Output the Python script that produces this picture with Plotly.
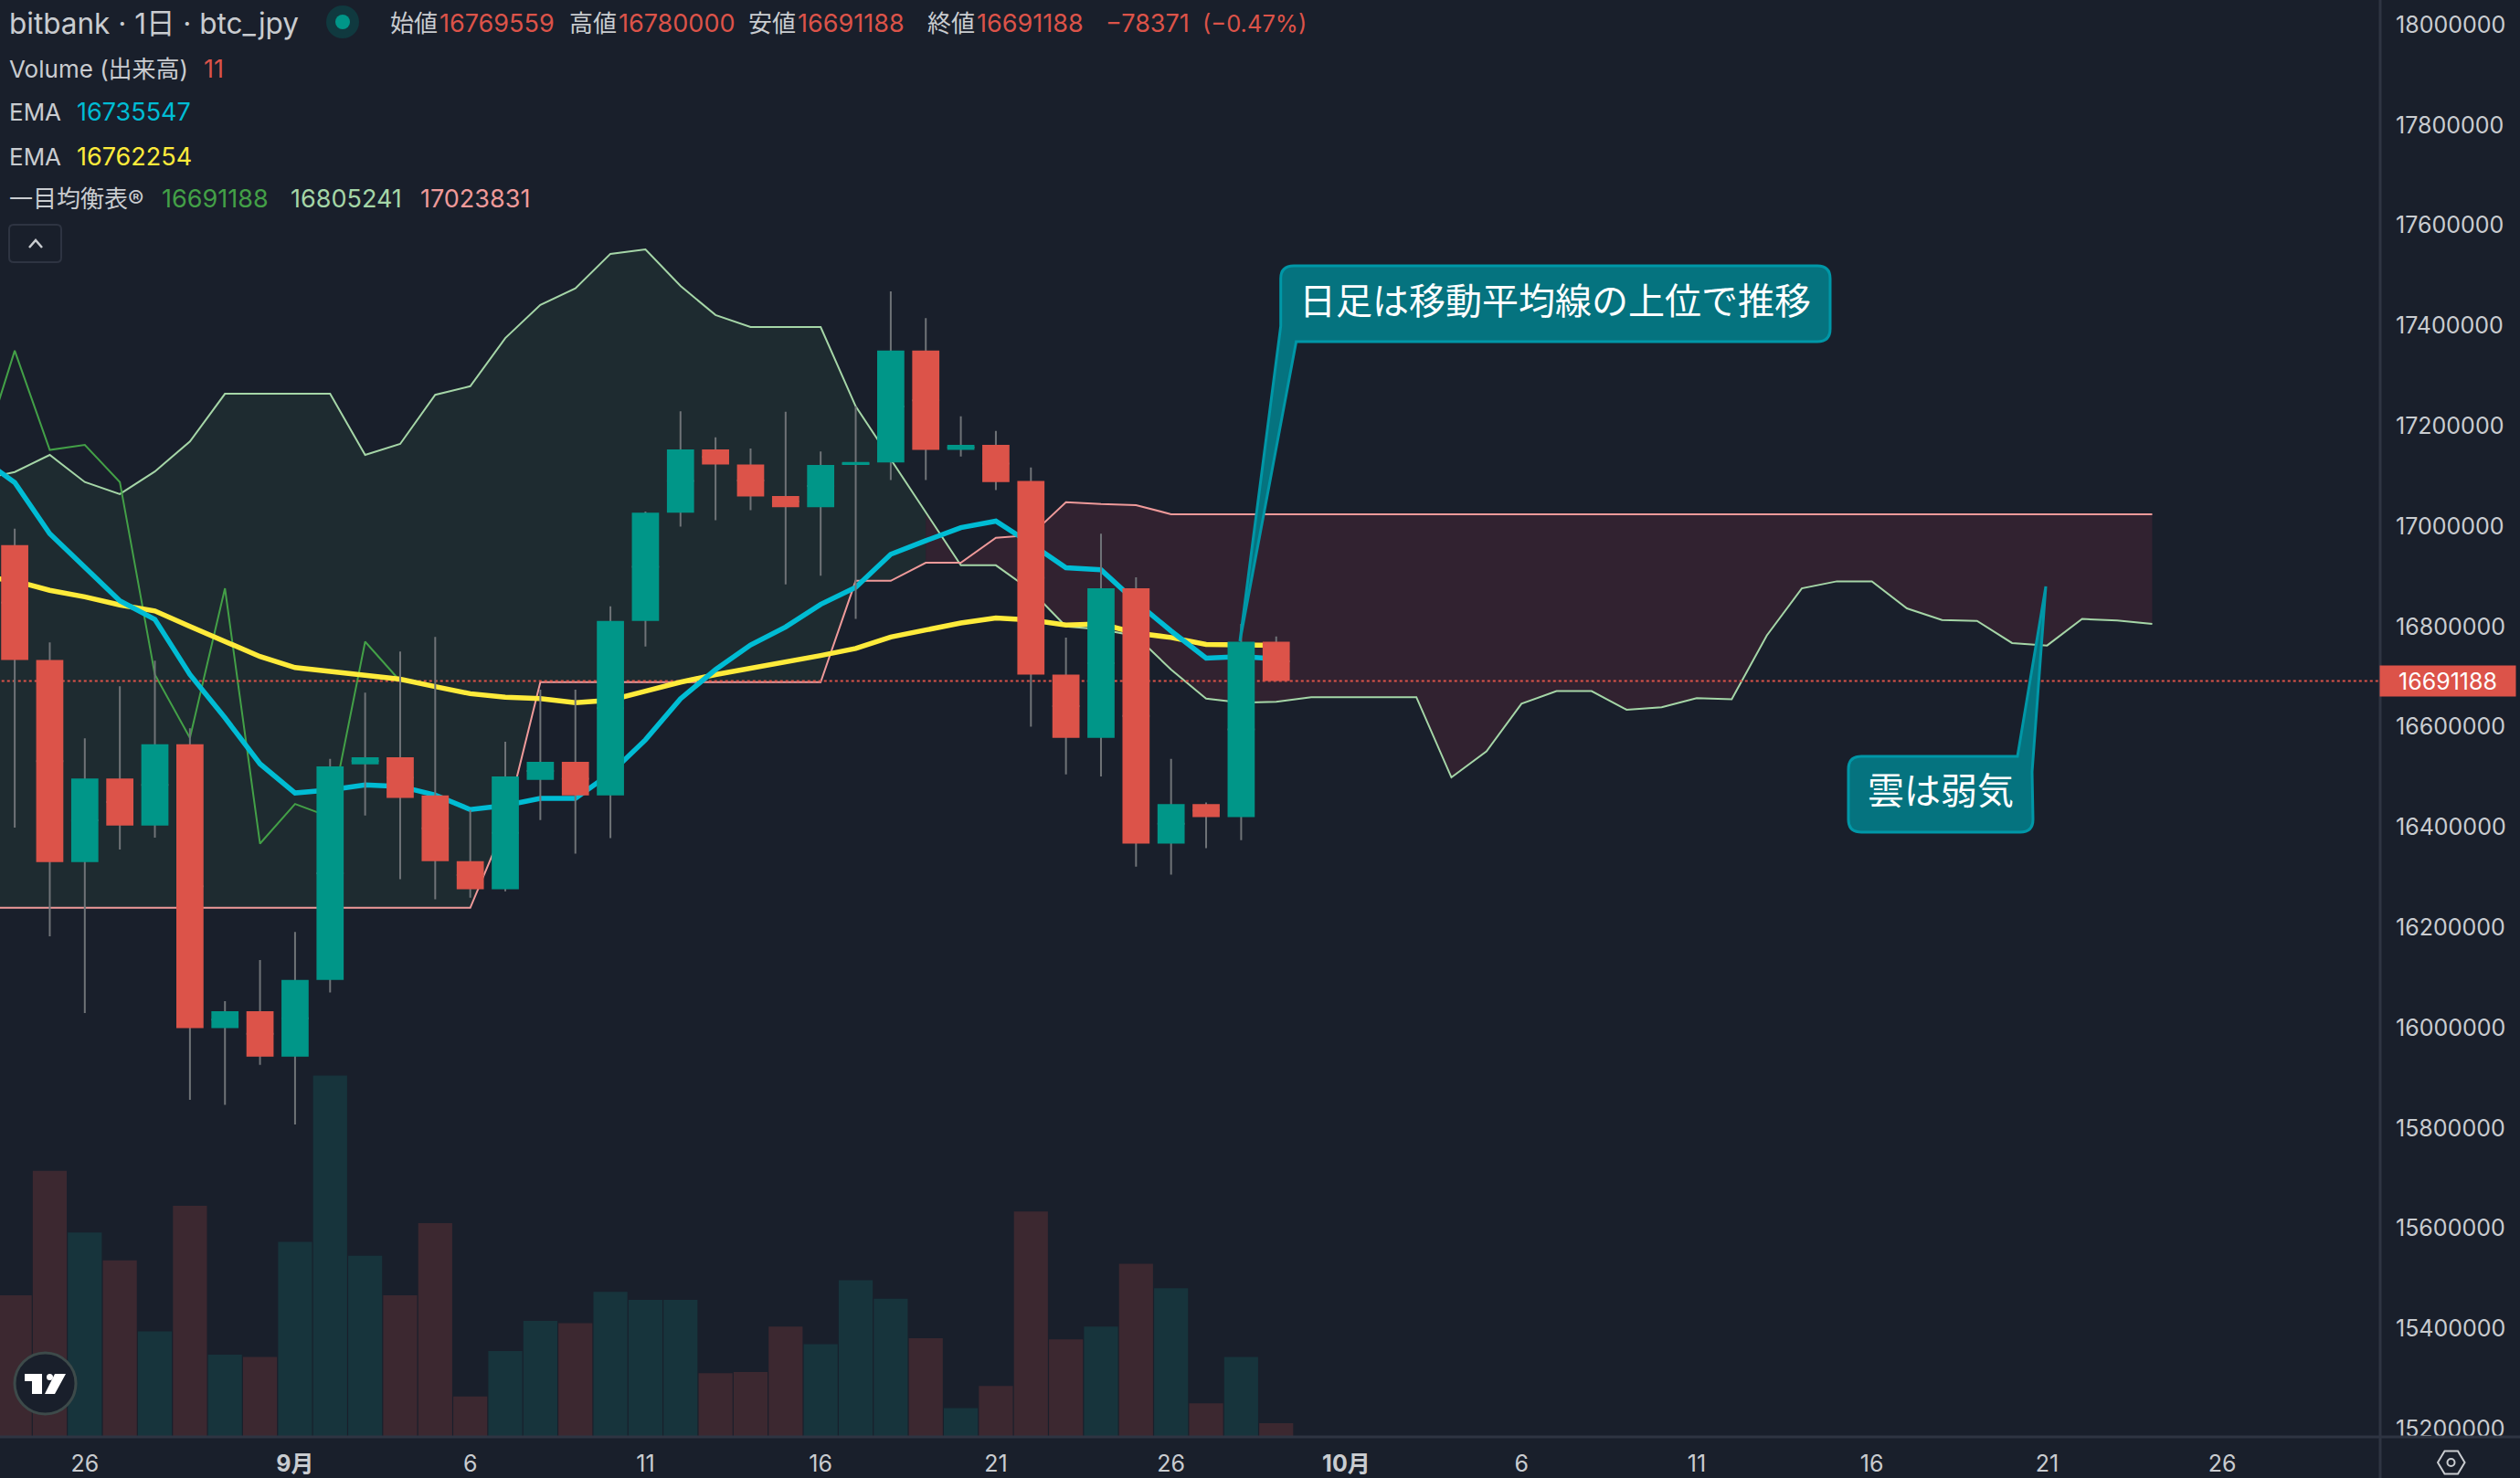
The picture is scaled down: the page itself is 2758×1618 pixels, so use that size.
import plotly.graph_objects as go

# ============== DATA ==============
candle_dates = ['2025-08-%02d' % d for d in range(24, 32)] + ['2025-09-%02d' % d for d in range(1, 30)]
opens = [16962000, 16733000, 16330000, 16497000, 16403000, 16565000, 15999000, 16033000, 15942000, 16095000,
         16525000, 16539000, 16463000, 16332000, 16276000, 16494000, 16530000, 16463000, 16811000, 17027000,
         17153000, 17123000, 17060000, 17038000, 17122000, 17127000, 17350000, 17152000, 17162000, 17090000,
         16704000, 16578000, 16876000, 16367000, 16446000, 16420000, 16769559]
highs = [16995000, 16768000, 16577000, 16681000, 16732000, 16597000, 16053000, 16135000, 16191000, 16536000,
         16668000, 16750000, 16779000, 16434000, 16570000, 16674000, 16674000, 16840000, 17029000, 17229000,
         17177000, 17155000, 17228000, 17149000, 17239000, 17468000, 17415000, 17219000, 17190000, 17117000,
         16778000, 16985000, 16898000, 16536000, 16449000, 16805000, 16780000]
lows = [16399000, 16182000, 16029000, 16355000, 16379000, 15856000, 15846000, 15926000, 15807000, 16070000,
        16423000, 16296000, 16256000, 16259000, 16272000, 16414000, 16347000, 16378000, 16760000, 16999000,
        17012000, 17032000, 16884000, 16901000, 16815000, 17092000, 17092000, 17139000, 17072000, 16600000,
        16505000, 16501000, 16321000, 16305000, 16358000, 16374000, 16691188]
closes = [16733000, 16330000, 16497000, 16403000, 16565000, 15999000, 16033000, 15942000, 16095000, 16521000,
          16539000, 16458000, 16332000, 16276000, 16501000, 16530000, 16463000, 16811000, 17027000, 17153000,
          17123000, 17059000, 17038000, 17122000, 17128000, 17350000, 17152000, 17162000, 17088000, 16704000,
          16578000, 16876000, 16367000, 16446000, 16420000, 16769559, 16691188]
volumes = [121, 228, 175, 151, 90, 198, 70, 68, 167, 310, 155, 121, 183, 34, 73, 99, 97, 124, 117, 117,
           54, 55, 94, 79, 134, 118, 84, 24, 43, 193, 83, 94, 148, 127, 28, 68, 11]

# линии начинаются на день раньше первой видимой свечи
line_dates = ['2025-08-%02d' % d for d in range(23, 32)] + ['2025-09-%02d' % d for d in range(1, 31)] \
    + ['2025-10-%02d' % d for d in range(1, 25)]
ema_fast = [17137000, 17087000, 16985000, 16918000, 16851000, 16814000, 16704000, 16618000, 16526000, 16468000,
            16474000, 16484000, 16481000, 16464000, 16435000, 16443000, 16457000, 16457000, 16507000, 16574000,
            16656000, 16714000, 16763000, 16799000, 16844000, 16878000, 16944000, 16971000, 16997000, 17010000,
            16965000, 16917000, 16913000, 16849000, 16791000, 16737000, 16740000, 16735547]
ema_slow = [16900000, 16891000, 16872000, 16859000, 16843000, 16831000, 16800000, 16771000, 16740000, 16718000,
            16710000, 16704000, 16695000, 16680000, 16666000, 16659000, 16656000, 16648000, 16653000, 16671000,
            16689000, 16704000, 16716000, 16729000, 16742000, 16756000, 16779000, 16793000, 16807000, 16817000,
            16813000, 16803000, 16805000, 16787000, 16778000, 16764000, 16764000, 16762254]
chikou = [17128000, 17350000, 17152000, 17162000, 17088000, 16704000, 16578000, 16876000, 16367000, 16446000,
          16420000, 16769559, 16691188]
senkou_a = [17093000, 17108000, 17142000, 17088000, 17064000, 17109000, 17169000, 17264000, 17264000, 17264000,
            17264000, 17142000, 17164000, 17262000, 17279000, 17375000, 17441000, 17474000, 17543000, 17552000,
            17479000, 17421000, 17397000, 17397000, 17397000, 17239000, 17133000, 17028000, 16922000, 16922000,
            16872000, 16800000, 16794000, 16781000, 16714000, 16656000, 16648000, 16650000, 16659000, 16659000,
            16659000, 16659000, 16499000, 16551000, 16646000, 16671000, 16671000, 16634000, 16639000, 16657000,
            16655000, 16782000, 16876000, 16890000, 16890000, 16836000, 16813000, 16811000, 16767000, 16762000,
            16815000, 16812000, 16805241]
senkou_b = [16239000, 16239000, 16239000, 16239000, 16239000, 16239000, 16239000, 16239000, 16239000, 16239000,
            16239000, 16239000, 16239000, 16239000, 16239000, 16406000, 16689000, 16689000, 16689000, 16689000,
            16689000, 16689000, 16689000, 16689000, 16689000, 16891000, 16891000, 16927000, 16927000, 16977000,
            16982000, 17048000, 17044000, 17042000, 17023831, 17023831, 17023831, 17023831, 17023831, 17023831,
            17023831, 17023831, 17023831, 17023831, 17023831, 17023831, 17023831, 17023831, 17023831, 17023831,
            17023831, 17023831, 17023831, 17023831, 17023831, 17023831, 17023831, 17023831, 17023831, 17023831,
            17023831, 17023831, 17023831]
last_price = 16691188
cloud_switch = 27  # индекс, где зелёное облако сменяется красным

x_tick_vals = ['2025-08-26', '2025-09-01', '2025-09-06', '2025-09-11', '2025-09-16', '2025-09-21', '2025-09-26',
               '2025-10-01', '2025-10-06', '2025-10-11', '2025-10-16', '2025-10-21', '2025-10-26']
x_tick_text = ['26', '<b>9月</b>', '6', '11', '16', '21', '26', '<b>10月</b>', '6', '11', '16', '21', '26']

# ============== STYLE ==============
W, H = 2758, 1618
PLOT_W, PLOT_H = 2604, 1572
BG = '#191f2b'
RED = '#dc5349'
GREEN = '#009688'
WICK = '#6f7377'
TEXT = '#c9ccd0'
AXIS = '#2e3442'
FONT = "Inter, 'Noto Sans CJK JP', sans-serif"
CJK = "'Noto Sans CJK JP', sans-serif"
PRICE_RANGE = [15185800, 18049180]

def px_x(x):
    return x / PLOT_W

def px_y(y):
    return 1 - y / PLOT_H

def path(*cmds):
    # команды в пикселях страницы -> координаты paper
    out = []
    for c in cmds:
        if isinstance(c, str):
            out.append(c)
        else:
            out.append('%.5f,%.5f' % (px_x(c[0]), px_y(c[1])))
    return ' '.join(out)

fig = go.Figure()

# объём
vol_colors = ['#17343c' if c >= o else '#3c2830' for o, c in zip(opens, closes)]
fig.add_trace(go.Bar(x=candle_dates, y=volumes, marker_color=vol_colors, marker_line_width=0,
                     yaxis='y', name='Volume'))

# облако
fig.add_trace(go.Scatter(x=line_dates[:cloud_switch + 1], y=senkou_b[:cloud_switch + 1], mode='lines',
                         line=dict(width=0), yaxis='y2', showlegend=False, hoverinfo='skip'))
fig.add_trace(go.Scatter(x=line_dates[:cloud_switch + 1], y=senkou_a[:cloud_switch + 1], mode='lines',
                         line=dict(width=0), fill='tonexty', fillcolor='#1e2b30', yaxis='y2',
                         showlegend=False, hoverinfo='skip'))
fig.add_trace(go.Scatter(x=line_dates[cloud_switch:], y=senkou_b[cloud_switch:], mode='lines',
                         line=dict(width=0), yaxis='y2', showlegend=False, hoverinfo='skip'))
fig.add_trace(go.Scatter(x=line_dates[cloud_switch:], y=senkou_a[cloud_switch:], mode='lines',
                         line=dict(width=0), fill='tonexty', fillcolor='#312230', yaxis='y2',
                         showlegend=False, hoverinfo='skip'))

# линии ишимоку и EMA
fig.add_trace(go.Scatter(x=line_dates, y=senkou_a, mode='lines', line=dict(color='#a5d6a7', width=2),
                         yaxis='y2', name='Senkou A'))
fig.add_trace(go.Scatter(x=line_dates, y=senkou_b, mode='lines', line=dict(color='#ef9a9a', width=2),
                         yaxis='y2', name='Senkou B'))
fig.add_trace(go.Scatter(x=line_dates[:len(chikou)], y=chikou, mode='lines', line=dict(color='#43a047', width=2),
                         yaxis='y2', name='Chikou'))
fig.add_trace(go.Scatter(x=['2025-08-23', '2025-10-31'], y=[last_price, last_price], mode='lines',
                         line=dict(color=RED, width=2, dash='dot'), yaxis='y2', name='Last'))
fig.add_trace(go.Scatter(x=line_dates[:len(ema_slow)], y=ema_slow, mode='lines', line=dict(color='#ffeb3b', width=5.5),
                         yaxis='y2', name='EMA slow'))
fig.add_trace(go.Scatter(x=line_dates[:len(ema_fast)], y=ema_fast, mode='lines', line=dict(color='#00bcd4', width=5.5),
                         yaxis='y2', name='EMA fast'))

# свечи: сначала серые фитили (тело схлопнуто), поверх цветные тела без контура
mids = [(o + c) / 2 for o, c in zip(opens, closes)]
fig.add_trace(go.Candlestick(x=candle_dates, open=mids, high=highs, low=lows, close=mids, yaxis='y3',
                             whiskerwidth=0, name='wick',
                             increasing=dict(line=dict(color=WICK, width=2), fillcolor=WICK),
                             decreasing=dict(line=dict(color=WICK, width=2), fillcolor=WICK)))
fig.add_trace(go.Candlestick(x=candle_dates, open=opens, high=highs, low=lows, close=closes, yaxis='y3',
                             whiskerwidth=0, name='btc_jpy',
                             increasing=dict(line=dict(color=GREEN, width=0), fillcolor=GREEN),
                             decreasing=dict(line=dict(color=RED, width=0), fillcolor=RED)))

fig.update_layout(
    width=W, height=H,
    margin=dict(l=0, r=W - PLOT_W, t=0, b=H - PLOT_H),
    paper_bgcolor=BG, plot_bgcolor=BG,
    showlegend=False,
    bargap=0.03,
    boxgap=0.225,
    boxgroupgap=0,
    xaxis=dict(type='date', range=['2025-08-23 13:55', '2025-10-30 11:31'], rangeslider=dict(visible=False),
               showgrid=False, zeroline=False, showline=False, ticks='',
               tickmode='array', tickvals=x_tick_vals, ticktext=x_tick_text,
               tickfont=dict(family=FONT, size=25, color=TEXT), ticklabelstandoff=13),
    yaxis=dict(visible=False, range=[0, 1235], fixedrange=True),
    yaxis2=dict(overlaying='y', side='right', range=PRICE_RANGE, showgrid=False, zeroline=False,
                showline=False, ticks='', tick0=15200000, dtick=200000, tickformat='d',
                tickfont=dict(family=FONT, size=25, color=TEXT), ticklabelstandoff=17),
    yaxis3=dict(overlaying='y', side='right', range=PRICE_RANGE, visible=False),
)

def line_shape(x0, y0, x1, y1):
    return dict(type='line', xref='paper', yref='paper', x0=px_x(x0), y0=px_y(y0), x1=px_x(x1), y1=px_y(y1),
                line=dict(color=AXIS, width=3), layer='above')

CALL_FILL = '#05737f'
CALL_LINE = '#0097a7'
shapes = [
    # обрезаем нижнюю метку шкалы у линии оси
    dict(type='rect', xref='paper', yref='paper', x0=1, x1=px_x(W), y0=px_y(H), y1=0,
         fillcolor=BG, line_width=0, layer='above'),
    line_shape(0, 1573, W, 1573),
    line_shape(2605, 0, 2605, H),
    # выноски
    dict(type='path', xref='paper', yref='paper', layer='above', fillcolor=CALL_FILL,
         line=dict(color=CALL_LINE, width=3),
         path=path('M', (1416, 291), 'L', (1989, 291), 'Q', (2003, 291), (2003, 305), 'L', (2003, 360),
                   'Q', (2003, 374), (1989, 374), 'L', (1418.6, 374), 'L', (1357, 702), 'L', (1401.7, 357),
                   'L', (1401.7, 305), 'Q', (1401.7, 291), (1416, 291), 'Z')),
    dict(type='path', xref='paper', yref='paper', layer='above', fillcolor=CALL_FILL,
         line=dict(color=CALL_LINE, width=3),
         path=path('M', (2037, 828), 'L', (2208, 828), 'L', (2239, 642), 'L', (2224, 845), 'L', (2225, 897),
                   'Q', (2225, 911), (2211, 911), 'L', (2037, 911), 'Q', (2023, 911), (2023, 897),
                   'L', (2023, 842), 'Q', (2023, 828), (2037, 828), 'Z')),
    # кнопка-свёртка
    dict(type='path', xref='paper', yref='paper', layer='above', fillcolor='rgba(0,0,0,0)',
         line=dict(color=AXIS, width=2),
         path=path('M', (15, 246), 'L', (62, 246), 'Q', (67, 246), (67, 251), 'L', (67, 282),
                   'Q', (67, 287), (62, 287), 'L', (15, 287), 'Q', (10, 287), (10, 282),
                   'L', (10, 251), 'Q', (10, 246), (15, 246), 'Z')),
    dict(type='path', xref='paper', yref='paper', layer='above',
         line=dict(color=TEXT, width=2.5),
         path=path('M', (32, 271), 'L', (39, 263), 'L', (46, 271))),
    # статус рынка
    dict(type='circle', xref='paper', yref='paper', layer='above', fillcolor='#10393f', line_width=0,
         x0=px_x(357), x1=px_x(393), y0=px_y(42), y1=px_y(6)),
    dict(type='circle', xref='paper', yref='paper', layer='above', fillcolor=GREEN, line_width=0,
         x0=px_x(367), x1=px_x(383), y0=px_y(32), y1=px_y(16)),
    # логотип
    dict(type='circle', xref='paper', yref='paper', layer='above', fillcolor=BG,
         line=dict(color='#3d4a4a', width=3),
         x0=px_x(16), x1=px_x(83), y0=px_y(1548), y1=px_y(1481)),
    dict(type='path', xref='paper', yref='paper', layer='above', fillcolor='#ffffff', line_width=0,
         path=path('M', (27, 1504), 'L', (46, 1504), 'L', (46, 1526), 'L', (35, 1526), 'L', (35, 1512),
                   'L', (27, 1512), 'Z', 'M', (60, 1504), 'L', (72, 1504), 'L', (60, 1526), 'L', (49, 1526), 'Z')),
    dict(type='circle', xref='paper', yref='paper', layer='above', fillcolor='#ffffff', line_width=0,
         x0=px_x(51), x1=px_x(58), y0=px_y(1511), y1=px_y(1504)),
    # шестерёнка
    dict(type='path', xref='paper', yref='paper', layer='above', fillcolor='rgba(0,0,0,0)',
         line=dict(color=TEXT, width=2),
         path=path('M', (2668, 1601), 'L', (2675.5, 1588.5), 'L', (2690, 1588.5), 'L', (2697.5, 1601),
                   'L', (2690, 1613.5), 'L', (2675.5, 1613.5), 'Z')),
    dict(type='circle', xref='paper', yref='paper', layer='above', fillcolor='rgba(0,0,0,0)',
         line=dict(color=TEXT, width=2),
         x0=px_x(2678.5), x1=px_x(2686.5), y0=px_y(1605), y1=px_y(1597)),
]
fig.update_layout(shapes=shapes)

def label(x, y, text, color=TEXT, size=27, family=FONT):
    fig.add_annotation(xref='paper', yref='paper', x=px_x(x), y=px_y(y), text=text, showarrow=False,
                       xanchor='left', yanchor='middle', align='left', borderpad=0,
                       font=dict(family=family, size=size, color=color))

label(9, 25, 'bitbank · 1日 · btc_jpy', size=31.5)
label(426, 25, '始値', size=26)
label(480, 25, '16769559', RED)
label(622, 25, '高値', size=26)
label(676, 25, '16780000', RED)
label(818, 25, '安値', size=26)
label(872, 25, '16691188', RED)
label(1014, 25, '終値', size=26)
label(1068, 25, '16691188', RED)
label(1209, 25, '−78371', RED)
label(1315, 25, '(−0.47%)', RED, 25.5)
label(9, 75, 'Volume (出来高)', size=26)
label(222, 75, '11', RED)
label(9, 123, 'EMA', size=26)
label(83, 123, '16735547', '#00bcd4')
label(9, 171, 'EMA', size=26)
label(83, 171, '16762254', '#ffeb3b')
label(9, 218, '一目均衡表®', size=26)
label(176, 218, '16691188', '#43a047')
label(317, 218, '16805241', '#a5d6a7')
label(459, 218, '17023831', '#ef9a9a')
label(1421, 327, '日足は移動平均線の上位で推移', '#ffffff', 40, CJK)
label(2043, 863, '雲は弱気', '#ffffff', 40, CJK)

# плашка текущей цены
fig.add_annotation(xref='paper', yref='y2', x=1, y=last_price, text=str(last_price), showarrow=False,
                   xanchor='left', yanchor='middle', width=148, height=33, bgcolor=RED, borderpad=0,
                   font=dict(family=FONT, size=25, color='#ffffff'))

fig.write_html('out.html', config={'displayModeBar': False}, post_script="document.body.style.margin='0';")
